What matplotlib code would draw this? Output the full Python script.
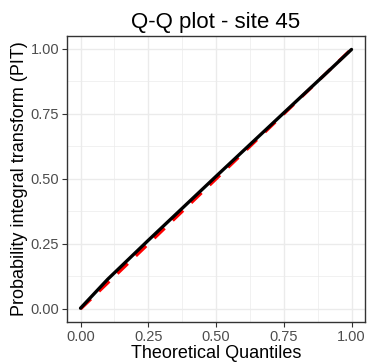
import matplotlib
matplotlib.use("Agg")
import matplotlib.pyplot as plt
from matplotlib.ticker import MultipleLocator

plt.rcParams['font.family'] = ['Liberation Sans', 'DejaVu Sans']

# Data
theoretical = [0.0, 0.10, 0.25, 0.50, 0.75, 0.90, 1.0]
pit = [0.003, 0.114, 0.264, 0.510, 0.754, 0.900, 0.998]
ref_x = [0.0, 1.0]
ref_y = [0.0, 1.0]
ticks = [0.0, 0.25, 0.5, 0.75, 1.0]
tick_labels = ["0.00", "0.25", "0.50", "0.75", "1.00"]

fig = plt.figure(figsize=(3.68, 3.63), dpi=100)
ax = fig.add_axes([0.182, 0.113, 0.810, 0.788])

ax.plot(ref_x, ref_y, color='#FF0000', lw=2.3, dashes=(4.5, 3.5), solid_capstyle='butt', zorder=3)
ax.plot(theoretical, pit, color='black', lw=2.4, solid_capstyle='round', zorder=4)

ax.set_xlim(-0.05, 1.05)
ax.set_ylim(-0.05, 1.05)
ax.set_xticks(ticks)
ax.set_xticklabels(tick_labels)
ax.set_yticks(ticks)
ax.set_yticklabels(tick_labels)
ax.xaxis.set_minor_locator(MultipleLocator(0.125))
ax.yaxis.set_minor_locator(MultipleLocator(0.125))

ax.grid(True, which='major', color='#EBEBEB', lw=1.0, zorder=0)
ax.grid(True, which='minor', color='#EBEBEB', lw=0.5, zorder=0)
ax.set_axisbelow(True)
ax.tick_params(which='minor', length=0)
ax.tick_params(which='major', length=3.5, width=0.8, color='#333333',
               labelcolor='#4D4D4D', labelsize=10.5, pad=2)
for s in ax.spines.values():
    s.set_color('#333333')
    s.set_linewidth(1.0)

ax.set_title("Q-Q plot - site 45", fontsize=16, pad=6)
ax.set_xlabel("Theoretical Quantiles", fontsize=13, labelpad=1)
ax.set_ylabel("Probability integral transform (PIT)", fontsize=13, labelpad=2)

fig.savefig("out.png", dpi=100)
